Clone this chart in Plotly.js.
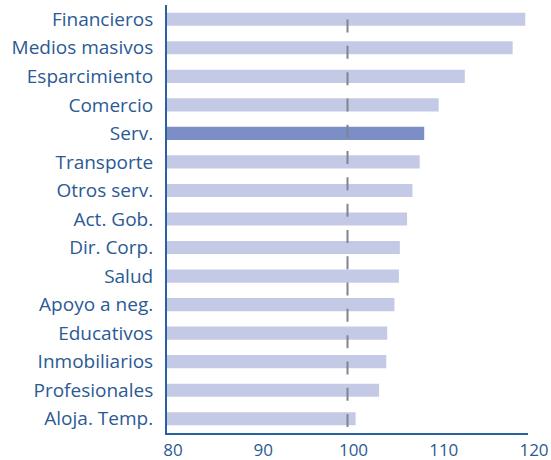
<!DOCTYPE html>
<html>
<head>
<meta charset="utf-8">
<script src="https://cdn.plot.ly/plotly-3.0.1.min.js"></script>
<style>html,body{margin:0;padding:0;background:#fff;}#chart{width:551px;height:460px;}</style>
</head>
<body>
<div id="chart"></div>
<script>
var categories = ["Financieros","Medios masivos","Esparcimiento","Comercio","Serv.","Transporte","Otros serv.","Act. Gob.","Dir. Corp.","Salud","Apoyo a neg.","Educativos","Inmobiliarios","Profesionales","Aloja. Temp."];
var values = [119.7,118.3,113.0,110.1,108.5,108.0,107.2,106.6,105.8,105.7,105.2,104.4,104.3,103.5,100.9];
var highlight = "Serv.";
var xTicks = [80,90,100,110,120];
var referenceValue = 100;
var axisMin = 80;

var colors = categories.map(function(c){ return c === highlight ? "#7b8ec5" : "#c4cae6"; });
var textColor = "#2b5a94";
var axisColor = "#2a62a0";

var trace = {
  type: "bar",
  orientation: "h",
  y: categories,
  x: values.map(function(v){ return v - axisMin; }),
  base: axisMin,
  marker: {color: colors, line: {width: 0}},
  width: 0.46,
  hoverinfo: "none"
};

var layout = {
  width: 551, height: 460,
  margin: {l: 167, r: 23, t: 5, b: 27},
  paper_bgcolor: "#ffffff", plot_bgcolor: "#ffffff",
  showlegend: false,
  font: {family: "Open Sans, sans-serif", color: textColor},
  xaxis: {
    range: [80, 120], tickvals: xTicks, ticktext: xTicks.map(String),
    showgrid: false, zeroline: false, showline: true, linecolor: axisColor, linewidth: 2,
    ticks: "", tickfont: {size: 17, color: textColor}, ticklabelshift: 6, ticklabelstandoff: 1,
    fixedrange: true
  },
  yaxis: {
    type: "category", autorange: false, range: [categories.length - 0.5, -0.5],
    showgrid: false, zeroline: false, showline: true, linecolor: axisColor, linewidth: 2,
    ticks: "", tickfont: {size: 19, color: textColor}, ticklabelstandoff: 8,
    fixedrange: true
  },
  shapes: [{
    type: "line", layer: "above", xref: "x", yref: "paper",
    x0: referenceValue, x1: referenceValue, y0: 0.966, y1: 0.0,
    line: {color: "#7f848f", width: 2, dash: "13px,13.3px"}
  }]
};

Plotly.newPlot("chart", [trace], layout, {displayModeBar: false, staticPlot: true});
</script>
</body>
</html>
